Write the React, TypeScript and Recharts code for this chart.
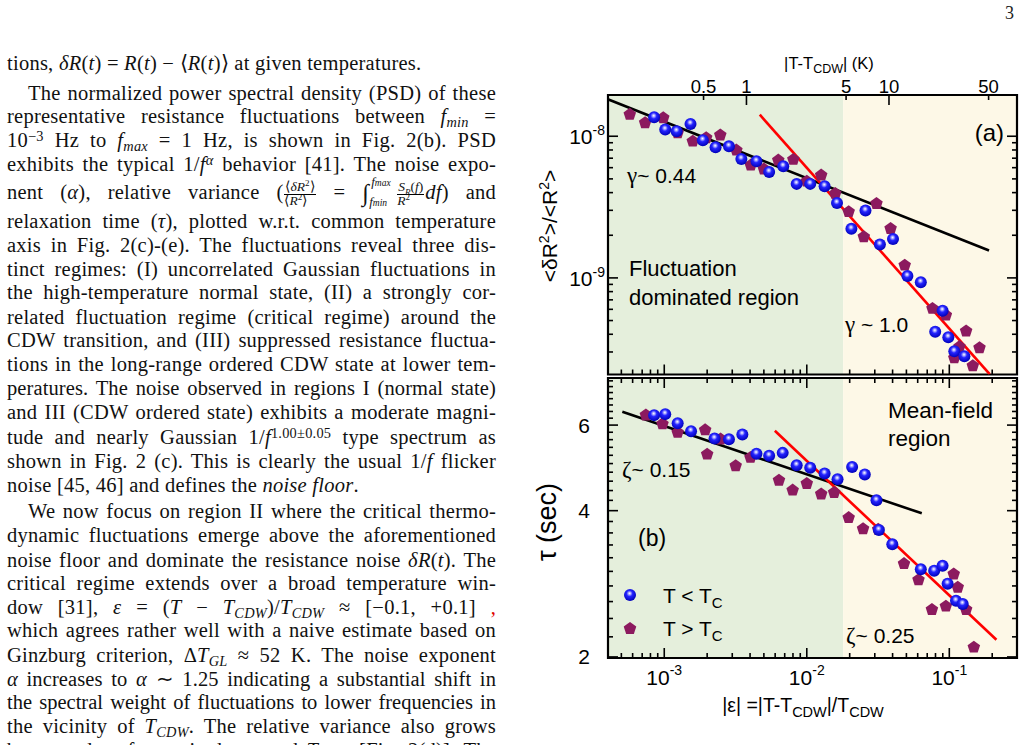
import React from 'react';
import { ScatterChart, Scatter, XAxis, YAxis, ReferenceArea, ReferenceLine, Legend } from 'recharts';

const SERIF = '"Liberation Serif", "Times New Roman", Times, serif';
const SANS = '"Liberation Sans", Arial, Helvetica, sans-serif';

// ---------------- data ----------------
const T_CDW = 265; // K, links |eps| to |T - T_CDW|
const EPS_DOMAIN: [number, number] = [4.03e-4, 0.2985];
const VAR_DOMAIN: [number, number] = [2.08e-10, 1.955e-8];
const TAU_DOMAIN: [number, number] = [1.99, 7.5];
const EPS_SPLIT = 0.018; // boundary fluctuation-dominated / mean-field

// panel (a): relative variance, T < Tc
const varBelowEps = [8.49e-4, 1.016e-3, 1.222e-3, 1.528e-3, 1.866e-3, 2.291e-3, 2.844e-3, 3.475e-3, 4.436e-3, 5.445e-3, 6.839e-3, 8.492e-3, 1.057e-2, 1.334e-2, 1.629e-2, 2.056e-2, 2.582e-2, 3.258e-2, 4.027e-2, 5.082e-2, 6.31e-2, 8.974e-2, 7.962e-2, 9.84e-2, 0.1084, 0.1276];
const varBelowVal = [1.361e-8, 1.114e-8, 1.084e-8, 1.222e-8, 9.38e-9, 8.36e-9, 8.49e-9, 6.92e-9, 6.67e-9, 5.6e-9, 6.14e-9, 4.61e-9, 4.61e-9, 4.44e-9, 3.38e-9, 2.22e-9, 2.99e-9, 1.72e-9, 1.88e-9, 1.03e-9, 9.31e-10, 5.87e-10, 4.16e-10, 3.81e-10, 3.03e-10, 2.8e-10];
// panel (a): relative variance, T > Tc
const varAboveEps = [5.73e-4, 7.34e-4, 9.84e-4, 1.242e-3, 1.585e-3, 1.968e-3, 2.472e-3, 3.206e-3, 4.046e-3, 5.0e-3, 6.31e-3, 8.05e-3, 1.0e-2, 1.262e-2, 1.585e-2, 1.968e-2, 2.512e-2, 3.083e-2, 3.873e-2, 4.864e-2, 7.62e-2, 9.46e-2, 0.1312, 0.1084, 0.1178, 0.1629, 0.1462];
const varAboveVal = [1.439e-8, 1.256e-8, 1.361e-8, 1.067e-8, 9.31e-9, 9.84e-9, 1.028e-8, 8.05e-9, 6.31e-9, 5.92e-9, 6.84e-9, 6.92e-9, 4.86e-9, 5.36e-9, 3.98e-9, 2.96e-9, 1.97e-9, 3.38e-9, 2.25e-9, 1.24e-9, 6.14e-10, 5.51e-10, 4.25e-10, 2.75e-10, 3.3e-10, 3.24e-10, 2.42e-10];
// panel (b): relaxation time tau (sec), T < Tc
const tauBelowEps = [8.49e-4, 1.016e-3, 1.242e-3, 1.542e-3, 2.254e-3, 2.844e-3, 3.532e-3, 4.436e-3, 5.445e-3, 6.776e-3, 8.492e-3, 1.057e-2, 1.334e-2, 1.644e-2, 2.08e-2, 2.553e-2, 3.083e-2, 3.206e-2, 3.981e-2, 6.31e-2, 7.83e-2, 8.97e-2, 9.73e-2, 0.1114, 0.1242];
const tauBelowVal = [6.29, 6.32, 6.05, 5.83, 5.63, 5.61, 5.74, 5.24, 5.19, 5.26, 4.96, 4.9, 4.77, 4.64, 4.92, 4.75, 4.2, 3.65, 3.41, 3.03, 3.01, 3.08, 2.83, 2.61, 2.57];
// panel (b): relaxation time tau (sec), T > Tc
const tauAboveEps = [7.43e-4, 9.72e-4, 1.242e-3, 1.936e-3, 2.0e-3, 2.483e-3, 3.17e-3, 4.027e-3, 6.38e-3, 7.96e-3, 1.0e-2, 1.262e-2, 1.556e-2, 1.968e-2, 2.483e-2, 3.17e-2, 4.81e-2, 6.08e-2, 0.1074, 0.1146, 7.55e-2, 9.46e-2, 0.1312, 0.1486];
const tauAboveVal = [6.31, 6.05, 5.81, 5.88, 5.24, 5.63, 4.96, 5.16, 4.63, 4.42, 4.56, 4.34, 4.37, 3.88, 3.68, 3.67, 3.12, 2.89, 2.97, 2.79, 2.51, 2.55, 2.51, 2.1];

// power-law fits (end points)
const fitVarLow = [{ x: 4.06e-4, y: 1.816e-8 }, { x: 0.19, y: 1.56e-9 }];   // gamma ~ 0.44
const fitVarHigh = [{ x: 4.68e-3, y: 1.42e-8 }, { x: 0.192, y: 2.09e-10 }]; // gamma ~ 1.0
const fitTauLow = [{ x: 5.08e-4, y: 6.39 }, { x: 0.0641, y: 3.95 }];       // zeta ~ 0.15
const fitTauHigh = [{ x: 5.97e-3, y: 5.84 }, { x: 0.214, y: 2.17 }];        // zeta ~ 0.25

// ticks
const mantissas = [1, 2, 3, 4, 5, 6, 7, 8, 9];
const epsDecades = [-4, -3, -2, -1];
const epsMajor = [1e-3, 1e-2, 1e-1];
const epsTicks = epsDecades.flatMap(d => mantissas.map(m => m * Math.pow(10, d))).filter(v => v >= EPS_DOMAIN[0] && v <= EPS_DOMAIN[1]);
const kTicks = [0.5, 1, 5, 10, 50];
const kTickLabels = ['0.5', '1', '5', '10', '50'];
const kMajor = [1, 10];
const kTicksEps = kTicks.map(k => k / T_CDW);
const varDecades = [-10, -9, -8];
const varTicks = varDecades.flatMap(d => mantissas.map(m => m * Math.pow(10, d))).filter(v => v >= VAR_DOMAIN[0] && v <= VAR_DOMAIN[1]);
const tauTicks = [2.0, 2.2, 2.4, 2.6, 2.8, 3.0, 3.2, 3.4, 3.6, 3.8, 4.0, 4.2, 4.4, 4.6, 4.8, 5.0, 5.2, 5.4, 5.6, 5.8, 6.0, 6.2, 6.4, 6.6, 6.8, 7.0, 7.2, 7.4];
const tauMajor = [2, 4, 6];

const zip = (xs: number[], ys: number[]) => xs.map((x, i) => ({ x, y: ys[i] }));
const near = (a: number, b: number) => Math.abs(a / b - 1) < 1e-6;

// ---------------- layout (chart coordinates) ----------------
const CW = 489;
const PL = 68, PR = 477;
const A_H = 380, A_TOP = 95, A_BOT = 374.5;
const B_H = 375, B_TOP = 8, B_BOT = 288;
const TICK_W = 1.6;
const GREEN = '#e5efdc';
const BEIGE = '#fdf8e7';
const PURPLE = '#8c1a5f';
const R_SPH = 6;

// ---------------- markers ----------------
const Sphere = (props: any) => {
  const { cx, cy, gid } = props;
  if (cx == null || cy == null) return <g />;
  return <circle cx={cx} cy={cy} r={R_SPH} fill={`url(#${gid})`} />;
};
const pentagonPoints = (cx: number, cy: number, r: number) =>
  [0, 1, 2, 3, 4].map(k => {
    const a = (-90 + 72 * k) * Math.PI / 180;
    return `${cx + r * Math.cos(a)},${cy + r * Math.sin(a)}`;
  }).join(' ');
const Pentagon = (props: any) => {
  const { cx, cy } = props;
  if (cx == null || cy == null) return <g />;
  return <polygon points={pentagonPoints(cx, cy + 0.6, 6.6)} fill={PURPLE} />;
};
const SphereDefs = ({ id }: { id: string }) => (
  <defs>
    <radialGradient id={id} cx="0.45" cy="0.4" r="0.6" fx="0.47" fy="0.36">
      <stop offset="0" stopColor="#ffffff" />
      <stop offset="0.16" stopColor="#b4b4ff" />
      <stop offset="0.42" stopColor="#2424ff" />
      <stop offset="1" stopColor="#0000b8" />
    </radialGradient>
  </defs>
);

// ---------------- ticks ----------------
const EpsTickA = (props: any) => {
  const { x, payload } = props;
  const major = epsMajor.some(m => near(payload.value, m));
  const len = major ? 10 : 5;
  return <line x1={x} x2={x} y1={A_BOT} y2={A_BOT - len} stroke="#000" strokeWidth={TICK_W} />;
};
const KTick = (props: any) => {
  const { x, payload } = props;
  const idx = kTicksEps.findIndex(v => near(v, payload.value));
  const major = kMajor.includes(kTicks[idx]);
  const len = major ? 10 : 5;
  return (
    <g>
      <line x1={x} x2={x} y1={A_TOP} y2={A_TOP + len} stroke="#000" strokeWidth={TICK_W} />
      <text x={x} y={A_TOP - 2} textAnchor="middle" fontFamily={SANS} fontSize={18.5} fill="#000">{kTickLabels[idx]}</text>
    </g>
  );
};
const VarTick = (props: any) => {
  const { y, payload } = props;
  const v = payload.value;
  const e = Math.round(Math.log10(v));
  const major = near(v, Math.pow(10, e));
  const len = major ? 10 : 5;
  return (
    <g>
      <line x1={PL} x2={PL + len} y1={y} y2={y} stroke="#000" strokeWidth={TICK_W} />
      <line x1={PR} x2={PR - len} y1={y} y2={y} stroke="#000" strokeWidth={TICK_W} />
      {major && (
        <text x={PL - 3} y={y + 8} textAnchor="end" fontFamily={SANS} fontSize={21} fill="#000">
          10<tspan dy={-9} fontSize={14}>{'-' + Math.abs(e)}</tspan>
        </text>
      )}
    </g>
  );
};
const EpsTickB = (props: any) => {
  const { x, payload } = props;
  const v = payload.value;
  const major = epsMajor.some(m => near(v, m));
  const len = major ? 10 : 5;
  const e = Math.round(Math.log10(v));
  return (
    <g>
      <line x1={x} x2={x} y1={B_BOT} y2={B_BOT - len} stroke="#000" strokeWidth={TICK_W} />
      <line x1={x} x2={x} y1={B_TOP} y2={B_TOP + len} stroke="#000" strokeWidth={TICK_W} />
      {major && (
        <text x={x} y={B_BOT + 27} textAnchor="middle" fontFamily={SANS} fontSize={21} fill="#000">
          10<tspan dy={-10} fontSize={14}>{'-' + Math.abs(e)}</tspan>
        </text>
      )}
    </g>
  );
};
const TauTick = (props: any) => {
  const { y, payload } = props;
  const v = payload.value;
  const major = tauMajor.some(m => Math.abs(v - m) < 1e-6);
  const len = major ? 10 : 5;
  return (
    <g>
      <line x1={PL} x2={PL + len} y1={y} y2={y} stroke="#000" strokeWidth={TICK_W} />
      <line x1={PR} x2={PR - len} y1={y} y2={y} stroke="#000" strokeWidth={TICK_W} />
      {major && (
        <text x={PL - 18} y={y + 7.5} textAnchor="end" fontFamily={SANS} fontSize={21} fill="#000">{String(v)}</text>
      )}
    </g>
  );
};

const LegendBox = () => (
  <svg width={140} height={72} style={{ overflow: 'visible' }}>
    <SphereDefs id="sphLeg" />
    <circle cx={10} cy={15} r={R_SPH} fill="url(#sphLeg)" />
    <text x={43} y={23} fontFamily={SANS} fontSize={21} fill="#000">
      T &lt; T<tspan dy={5} fontSize={15}>C</tspan>
    </text>
    <polygon points={pentagonPoints(10, 48.6, 6.6)} fill={PURPLE} />
    <text x={43} y={56} fontFamily={SANS} fontSize={21} fill="#000">
      T &gt; T<tspan dy={5} fontSize={15}>C</tspan>
    </text>
  </svg>
);

// ---------------- page text ----------------
const I = ({ children }: any) => <i>{children}</i>;
const Sub = ({ children }: any) => <span style={{ fontSize: '0.7em', position: 'relative', top: '0.3em', lineHeight: 0 }}>{children}</span>;
const Sup = ({ children }: any) => <span style={{ fontSize: '0.7em', position: 'relative', top: '-0.45em', lineHeight: 0 }}>{children}</span>;
const small = { fontSize: 9, lineHeight: 0 };
const Frac = ({ num, den }: any) => (
  <span style={{ display: 'inline-block', verticalAlign: 'top', position: 'relative', top: 2, textAlign: 'center', fontSize: 13.5, lineHeight: '10.5px', letterSpacing: 0, margin: '0 1px' }}>
    <span style={{ display: 'block', borderBottom: '1px solid #000', padding: '0 1px 1px' }}>{num}</span>
    <span style={{ display: 'block', paddingTop: 1 }}>{den}</span>
  </span>
);
const Integral = () => (
  <span style={{ display: 'inline-block', verticalAlign: 'top', position: 'relative', width: 34, height: 24, letterSpacing: 0 }}>
    <span style={{ position: 'absolute', left: 0, top: 1, fontSize: 24, lineHeight: '24px' }}>∫</span>
    <span style={{ position: 'absolute', left: 9, top: -5, fontSize: 13, lineHeight: '13px', whiteSpace: 'nowrap' }}><i>f<span style={{ fontSize: 9.5 }}>max</span></i></span>
    <span style={{ position: 'absolute', left: 7, top: 15, fontSize: 13, lineHeight: '13px', whiteSpace: 'nowrap' }}><i>f<span style={{ fontSize: 9.5 }}>min</span></i></span>
  </span>
);

const textLines: { b: number; indent?: boolean; last?: boolean; ls?: number; c: React.ReactNode }[] = [
  { b: 70, last: true, c: <>tions, <I>δR</I>(<I>t</I>) = <I>R</I>(<I>t</I>) − ⟨<I>R</I>(<I>t</I>)⟩ at given temperatures.</> },
  { b: 100, indent: true, c: <>The normalized power spectral density (PSD) of these</> },
  { b: 123, c: <>representative resistance fluctuations between <I>f</I><Sub><I>min</I></Sub> =</> },
  { b: 147, c: <>10<Sup>−3</Sup> Hz to <I>f</I><Sub><I>max</I></Sub> = 1 Hz, is shown in Fig. 2(b). PSD</> },
  { b: 171, c: <>exhibits the typical 1/<I>f</I><Sup><I>α</I></Sup> behavior [41]. The noise expo-</> },
  { b: 199, c: <>nent (<I>α</I>), relative variance (<Frac num={<>⟨<I>δR</I><sup style={small}>2</sup>⟩</>} den={<>⟨<I>R</I><sup style={small}>2</sup>⟩</>} /> = <Integral /><Frac num={<><I>S</I><sub style={small}><I>R</I></sub>(<I>f</I>)</>} den={<><I>R</I><sup style={small}>2</sup></>} /><I>df</I>) and</> },
  { b: 228, c: <>relaxation time (<I>τ</I>), plotted w.r.t. common temperature</> },
  { b: 252, c: <>axis in Fig. 2(c)-(e). The fluctuations reveal three dis-</> },
  { b: 276, c: <>tinct regimes: (I) uncorrelated Gaussian fluctuations in</> },
  { b: 299, c: <>the high-temperature normal state, (II) a strongly cor-</> },
  { b: 324, c: <>related fluctuation regime (critical regime) around the</> },
  { b: 347, c: <>CDW transition, and (III) suppressed resistance fluctua-</> },
  { b: 371, c: <>tions in the long-range ordered CDW state at lower tem-</> },
  { b: 395, ls: 0.1, c: <>peratures. The noise observed in regions I (normal state)</> },
  { b: 419, c: <>and III (CDW ordered state) exhibits a moderate magni-</> },
  { b: 444, c: <>tude and nearly Gaussian 1/<I>f</I><Sup>1.00±0.05</Sup> type spectrum as</> },
  { b: 468, c: <>shown in Fig. 2 (c). This is clearly the usual 1/<I>f</I> flicker</> },
  { b: 492, last: true, c: <>noise [45, 46] and defines the <I>noise floor</I>.</> },
  { b: 518, indent: true, c: <>We now focus on region II where the critical thermo-</> },
  { b: 542, c: <>dynamic fluctuations emerge above the aforementioned</> },
  { b: 567, c: <>noise floor and dominate the resistance noise <I>δR</I>(<I>t</I>). The</> },
  { b: 590, c: <>critical regime extends over a broad temperature win-</> },
  { b: 614, c: <>dow [31], <I>ε</I> = (<I>T</I> − <I>T</I><Sub><I>CDW</I></Sub>)/<I>T</I><Sub><I>CDW</I></Sub> ≈ [−0.1, +0.1] <span style={{ color: '#e00000' }}>,</span></> },
  { b: 637, c: <>which agrees rather well with a naive estimate based on</> },
  { b: 662, c: <>Ginzburg criterion, Δ<I>T</I><Sub><I>GL</I></Sub> ≈ 52 K. The noise exponent</> },
  { b: 686, ls: 0.1, c: <><I>α</I> increases to <I>α</I> ∼ 1.25 indicating a substantial shift in</> },
  { b: 709, ls: 0, c: <>the spectral weight of fluctuations to lower frequencies in</> },
  { b: 733, c: <>the vicinity of <I>T</I><Sub><I>CDW</I></Sub>. The relative variance also grows</> },
  { b: 757, c: <>by an order of magnitude around <I>T</I><Sub><I>CDW</I></Sub> [Fig. 2(d)]. The</> },
];

const axisCommon = { type: 'number' as const, scale: 'log' as const, allowDataOverflow: true, tickLine: false, axisLine: false, interval: 0 as const, tickSize: 0 };

export default function App() {
  const varBelow = zip(varBelowEps, varBelowVal);
  const varAbove = zip(varAboveEps, varAboveVal);
  const tauBelow = zip(tauBelowEps, tauBelowVal);
  const tauAbove = zip(tauAboveEps, tauAboveVal);

  return (
    <div style={{ position: 'absolute', left: 0, top: 0, width: 1029, height: 745, overflow: 'hidden', background: '#fff' }}>
      {textLines.map((l, i) => (
        <div key={i} style={{
          position: 'absolute', left: 7, top: l.b - 19, width: 489, height: 24,
          fontFamily: SERIF, fontSize: 20.5, lineHeight: '24px', color: '#111',
          letterSpacing: `${l.ls ?? 0.25}px`,
          textAlign: 'justify', textAlignLast: l.last ? 'left' : 'justify',
          textIndent: l.indent ? 21 : 0,
        }}>{l.c}</div>
      ))}

      {/* panel (a) */}
      <div style={{ position: 'absolute', left: 540, top: 0 }}>
        <ScatterChart width={CW} height={A_H} margin={{ top: 94, right: 12, bottom: 4.5, left: 67 }}>
          <SphereDefs id="sphA" />
          <XAxis {...axisCommon} xAxisId="e" dataKey="x" orientation="bottom" height={1} domain={EPS_DOMAIN} ticks={epsTicks} tick={EpsTickA} />
          <XAxis {...axisCommon} xAxisId="k" dataKey="x" orientation="top" height={1} domain={EPS_DOMAIN} ticks={kTicksEps} tick={KTick} />
          <YAxis {...axisCommon} yAxisId="v" dataKey="y" width={1} domain={VAR_DOMAIN} ticks={varTicks} tick={VarTick} />
          <ReferenceArea xAxisId="e" yAxisId="v" x1={EPS_DOMAIN[0]} x2={EPS_SPLIT} y1={VAR_DOMAIN[0]} y2={VAR_DOMAIN[1]} fill={GREEN} fillOpacity={1} stroke="none" />
          <ReferenceArea xAxisId="e" yAxisId="v" x1={EPS_SPLIT} x2={EPS_DOMAIN[1]} y1={VAR_DOMAIN[0]} y2={VAR_DOMAIN[1]} fill={BEIGE} fillOpacity={1} stroke="none" />
          <Scatter xAxisId="k" yAxisId="v" data={varBelow} shape={() => <g />} isAnimationActive={false} legendType="none" />
          <Scatter xAxisId="e" yAxisId="v" data={varAbove} shape={(p: any) => <Pentagon {...p} />} isAnimationActive={false} />
          <Scatter xAxisId="e" yAxisId="v" data={varBelow} shape={(p: any) => <Sphere {...p} gid="sphA" />} isAnimationActive={false} />
          <ReferenceLine xAxisId="e" yAxisId="v" segment={fitVarLow} stroke="#000" strokeWidth={2.6} ifOverflow="hidden" />
          <ReferenceLine xAxisId="e" yAxisId="v" segment={fitVarHigh} stroke="#ff0000" strokeWidth={2.6} ifOverflow="hidden" />
          <ReferenceArea xAxisId="e" yAxisId="v" x1={EPS_DOMAIN[0]} x2={EPS_DOMAIN[1]} y1={VAR_DOMAIN[0]} y2={VAR_DOMAIN[1]} fill="none" stroke="#000" strokeWidth={2.2} />
        </ScatterChart>
      </div>

      {/* panel (b) */}
      <div style={{ position: 'absolute', left: 540, top: 370 }}>
        <ScatterChart width={CW} height={B_H} margin={{ top: 8, right: 12, bottom: 86, left: 67 }}>
          <SphereDefs id="sphB" />
          <XAxis {...axisCommon} xAxisId="e" dataKey="x" orientation="bottom" height={1} domain={EPS_DOMAIN} ticks={epsTicks} tick={EpsTickB} />
          <YAxis {...axisCommon} yAxisId="t" dataKey="y" width={1} domain={TAU_DOMAIN} ticks={tauTicks} tick={TauTick} />
          <ReferenceArea xAxisId="e" yAxisId="t" x1={EPS_DOMAIN[0]} x2={EPS_SPLIT} y1={TAU_DOMAIN[0]} y2={TAU_DOMAIN[1]} fill={GREEN} fillOpacity={1} stroke="none" />
          <ReferenceArea xAxisId="e" yAxisId="t" x1={EPS_SPLIT} x2={EPS_DOMAIN[1]} y1={TAU_DOMAIN[0]} y2={TAU_DOMAIN[1]} fill={BEIGE} fillOpacity={1} stroke="none" />
          <Scatter xAxisId="e" yAxisId="t" name="T > Tc" data={tauAbove} shape={(p: any) => <Pentagon {...p} />} isAnimationActive={false} />
          <Scatter xAxisId="e" yAxisId="t" name="T < Tc" data={tauBelow} shape={(p: any) => <Sphere {...p} gid="sphB" />} isAnimationActive={false} />
          <ReferenceLine xAxisId="e" yAxisId="t" segment={fitTauLow} stroke="#000" strokeWidth={2.6} ifOverflow="hidden" />
          <ReferenceLine xAxisId="e" yAxisId="t" segment={fitTauHigh} stroke="#ff0000" strokeWidth={2.6} ifOverflow="hidden" />
          <ReferenceArea xAxisId="e" yAxisId="t" x1={EPS_DOMAIN[0]} x2={EPS_DOMAIN[1]} y1={TAU_DOMAIN[0]} y2={TAU_DOMAIN[1]} fill="none" stroke="#000" strokeWidth={2.2} />
          <Legend content={LegendBox} layout="horizontal" verticalAlign="middle" align="center" wrapperStyle={{ left: 80, top: 210, width: 140, height: 72 }} />
        </ScatterChart>
      </div>

      {/* annotations & axis titles */}
      <svg width={1029} height={745} style={{ position: 'absolute', left: 0, top: 0, pointerEvents: 'none' }}>
        <text x={1014} y={19} textAnchor="end" fontFamily={SERIF} fontSize={18} fill="#222">3</text>
        <text x={829} y={69} textAnchor="middle" fontFamily={SANS} fontSize={16.5} fill="#000">
          |T-T<tspan dy={4} fontSize={12.5}>CDW</tspan><tspan dy={-4}>| (K)</tspan>
        </text>
        <text x={803} y={712} textAnchor="middle" fontFamily={SANS} fontSize={19.5} fill="#000">
          |ε| =|T-T<tspan dy={5} fontSize={14.5}>CDW</tspan><tspan dy={-5}>|/T</tspan><tspan dy={5} fontSize={14.5}>CDW</tspan>
        </text>
        <text transform="translate(557,226) rotate(-90)" textAnchor="middle" fontFamily={SANS} fontSize={21} fill="#000">
          &lt;δR<tspan dy={-8} fontSize={14}>2</tspan><tspan dy={8}>&gt;/&lt;R</tspan><tspan dy={-8} fontSize={14}>2</tspan><tspan dy={8}>&gt;</tspan>
        </text>
        <text transform="translate(556,522) rotate(-90)" textAnchor="middle" fontFamily={SANS} fontSize={27} fill="#000">τ (sec)</text>

        <text x={1004} y={141} textAnchor="end" fontFamily={SANS} fontSize={24} fill="#000">(a)</text>
        <text x={627} y={183} fontFamily={SANS} fontSize={21} fill="#000"><tspan fontFamily={SERIF} fontSize={23}>γ</tspan>~ 0.44</text>
        <text x={629} y={276} fontFamily={SANS} fontSize={22} fill="#000">Fluctuation</text>
        <text x={629} y={305} fontFamily={SANS} fontSize={22} fill="#000">dominated region</text>
        <text x={845} y={332} fontFamily={SANS} fontSize={21} fill="#000"><tspan fontFamily={SERIF} fontSize={23}>γ</tspan> ~ 1.0</text>

        <text x={888} y={418} fontFamily={SANS} fontSize={22.5} fill="#000">Mean-field</text>
        <text x={888} y={446} fontFamily={SANS} fontSize={22.5} fill="#000">region</text>
        <text x={622} y={477} fontFamily={SANS} fontSize={21} fill="#000"><tspan fontFamily={SERIF} fontSize={23}>ζ</tspan>~ 0.15</text>
        <text x={638} y={546} fontFamily={SANS} fontSize={23} fill="#000">(b)</text>
        <text x={846} y={643} fontFamily={SANS} fontSize={21} fill="#000"><tspan fontFamily={SERIF} fontSize={23}>ζ</tspan>~ 0.25</text>
      </svg>
    </div>
  );
}
